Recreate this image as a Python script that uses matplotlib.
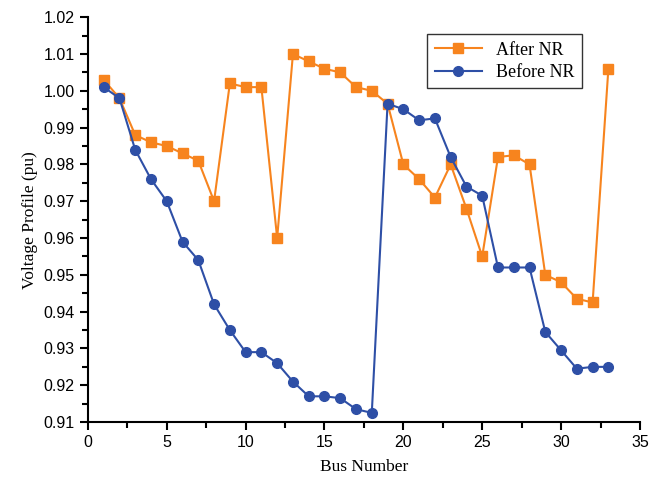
import matplotlib.pyplot as plt
from matplotlib.ticker import MultipleLocator

bus = list(range(1, 34))

after_nr = [1.003, 0.998, 0.988, 0.986, 0.985, 0.983, 0.981, 0.970, 1.002, 1.001,
            1.001, 0.960, 1.010, 1.008, 1.006, 1.005, 1.001, 1.000, 0.9965, 0.980,
            0.976, 0.971, 0.980, 0.968, 0.955, 0.982, 0.9825, 0.980, 0.950, 0.948,
            0.9435, 0.9425, 1.006]

before_nr = [1.001, 0.998, 0.984, 0.976, 0.970, 0.959, 0.954, 0.942, 0.935, 0.929,
             0.929, 0.926, 0.921, 0.917, 0.917, 0.9165, 0.9135, 0.9125, 0.9965, 0.995,
             0.992, 0.9925, 0.982, 0.974, 0.9715, 0.952, 0.952, 0.952, 0.9345, 0.9295,
             0.9245, 0.925, 0.925]

orange = '#F7841E'
blue = '#2E4FA6'

fig = plt.figure(figsize=(6.51, 4.78), dpi=100)
ax = fig.add_axes([0.135, 0.117, 0.848, 0.847])

ax.plot(bus, after_nr, color=orange, marker='s', markersize=7, linewidth=1.5, label='After NR')
ax.plot(bus, before_nr, color=blue, marker='o', markersize=7, linewidth=1.5, label='Before NR')

ax.set_xlim(0, 35)
ax.set_ylim(0.91, 1.02)
ax.xaxis.set_major_locator(MultipleLocator(5))
ax.xaxis.set_minor_locator(MultipleLocator(2.5))
ax.yaxis.set_major_locator(MultipleLocator(0.01))
ax.yaxis.set_minor_locator(MultipleLocator(0.005))
ax.yaxis.set_major_formatter(plt.FuncFormatter(lambda v, p: f'{v:.2f}'))

for s in ['top', 'right']:
    ax.spines[s].set_visible(False)
for s in ['left', 'bottom']:
    ax.spines[s].set_linewidth(1.5)

ax.tick_params(which='major', direction='out', length=6, width=1.5, labelsize=11.5)
ax.tick_params(which='minor', direction='out', length=4, width=1.5)
for lbl in ax.get_xticklabels() + ax.get_yticklabels():
    lbl.set_fontfamily('Liberation Sans')

ax.set_xlabel('Bus Number', fontfamily='Liberation Serif', fontsize=12.5, labelpad=6)
ax.set_ylabel('Voltage Profile (pu)', fontfamily='Liberation Serif', fontsize=12.5)

leg = ax.legend(loc='upper right', bbox_to_anchor=(0.911, 0.98), fancybox=False,
                edgecolor='black', prop={'family': 'Liberation Serif', 'size': 13},
                handlelength=2.6, borderpad=0.4, labelspacing=0.3)
leg.get_frame().set_linewidth(1.0)

fig.savefig('out.png', dpi=100)
